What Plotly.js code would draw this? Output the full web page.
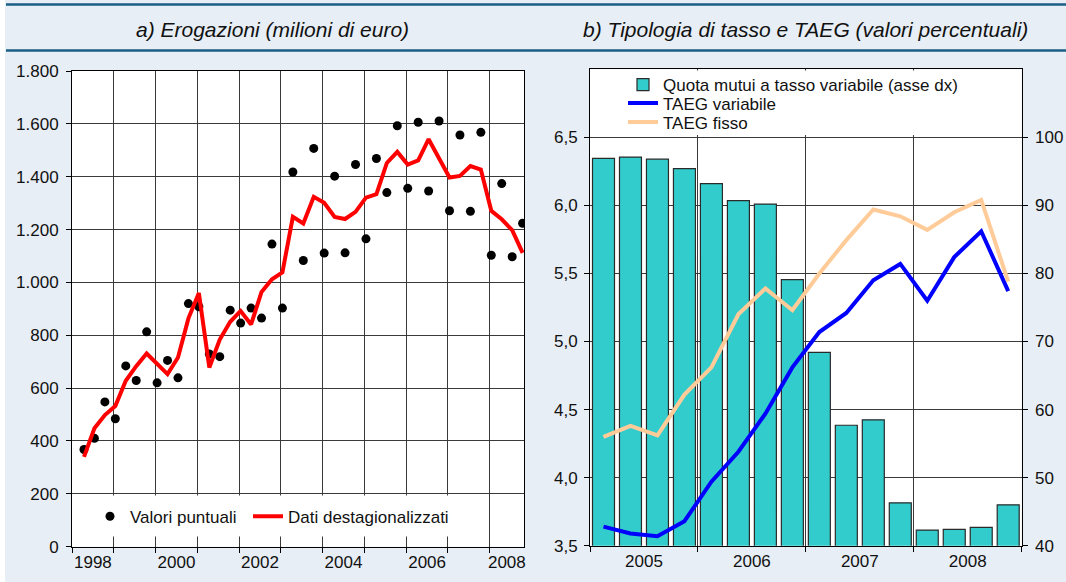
<!DOCTYPE html>
<html><head><meta charset="utf-8">
<script src="https://cdn.plot.ly/plotly-3.0.1.min.js"></script>
<style>html,body{margin:0;padding:0;background:#E7EEF5;}#chart{width:1066px;height:582px;}</style>
</head><body><div id="chart"></div><script>
// ---- data (panel a) ----
const quartersA = ['1998 T1','1998 T2','1998 T3','1998 T4','1999 T1','1999 T2','1999 T3','1999 T4',
  '2000 T1','2000 T2','2000 T3','2000 T4','2001 T1','2001 T2','2001 T3','2001 T4',
  '2002 T1','2002 T2','2002 T3','2002 T4','2003 T1','2003 T2','2003 T3','2003 T4',
  '2004 T1','2004 T2','2004 T3','2004 T4','2005 T1','2005 T2','2005 T3','2005 T4',
  '2006 T1','2006 T2','2006 T3','2006 T4','2007 T1','2007 T2','2007 T3','2007 T4',
  '2008 T1','2008 T2','2008 T3'];
const valoriPuntuali = [368,410,548,484,684,629,813,620,705,639,920,908,729,719,895,846,903,865,1145,903,
  1418,1083,1507,1111,1402,1112,1446,1165,1469,1340,1593,1356,1606,1346,1611,1271,1558,1269,1568,1103,1374,1097,1224];
const datiDestagionalizzati = [340,448,498,532,628,683,731,693,653,716,864,960,678,784,851,892,841,964,1012,1038,
  1248,1223,1324,1301,1248,1240,1267,1321,1334,1452,1494,1446,1462,1542,1469,1397,1403,1440,1427,1271,1239,1198,1112];
const yearLabelsA = ['1998','2000','2002','2004','2006','2008'];
const yearGridA = [1998,1999,2000,2001,2002,2003,2004,2005,2006,2007,2008];

// ---- data (panel b) ----
const quartersB = ['2005 T1','2005 T2','2005 T3','2005 T4','2006 T1','2006 T2','2006 T3','2006 T4',
  '2007 T1','2007 T2','2007 T3','2007 T4','2008 T1','2008 T2','2008 T3','2008 T4'];
const quotaVariabile = [96.9,97.1,96.8,95.4,93.2,90.7,90.2,79.1,68.4,57.7,58.5,46.3,42.3,42.4,42.7,46.0];
const taegVariabile = [3.64,3.59,3.57,3.68,3.97,4.19,4.47,4.81,5.07,5.21,5.45,5.57,5.30,5.62,5.81,5.37];
const taegFisso = [4.30,4.38,4.31,4.61,4.81,5.20,5.39,5.23,5.50,5.745,5.97,5.92,5.82,5.95,6.04,5.44];
const yearLabelsB = ['2005','2006','2007','2008'];
const yearGridB = [2005,2006,2007,2008,2009];

// ---- helpers ----
const W = 1066, H = 582;
const px = v => v / W, py = v => (H - v) / H;
const parseQ = l => { const p = l.split(' T'); return [+p[0], +p[1]]; };
const quarterEnd = l => { const [y, q] = parseQ(l); return y + q / 4 + 0.037; };
const quarterMid = l => { const [y, q] = parseQ(l); return y + (q - 0.5) / 4; };
const rangeA = [1998, 2008.82], rangeB = [2005, 2009];
const labelPos = (labels, rng) => labels.map(s => { const y = +s; return (y + Math.min(y + 1, rng[1])) / 2; });

const FONT = 'Liberation Sans, Arial, sans-serif';
const tickFont = {family: FONT, size: 17, color: '#111'};
const legFont = {family: FONT, size: 17, color: '#111'};
const gridC = '#3a3a3a';

const traces = [
  {type: 'scatter', mode: 'markers', name: 'Valori puntuali', x: quartersA.map(quarterEnd), y: valoriPuntuali,
   marker: {color: '#000', size: 9}, xaxis: 'x', yaxis: 'y', legend: 'legend', hoverinfo: 'skip'},
  {type: 'scatter', mode: 'lines', name: 'Dati destagionalizzati', x: quartersA.map(quarterEnd), y: datiDestagionalizzati,
   line: {color: '#FF0000', width: 4}, xaxis: 'x', yaxis: 'y', legend: 'legend5', hoverinfo: 'skip'},
  {type: 'bar', name: 'Quota mutui a tasso variabile (asse dx)', x: quartersB.map(quarterMid), y: quotaVariabile,
   marker: {color: '#33CCCC', line: {color: '#2a2a2a', width: 1.2}}, xaxis: 'x2', yaxis: 'y2', legend: 'legend2', hoverinfo: 'skip'},
  {type: 'scatter', mode: 'lines', name: 'TAEG variabile', x: quartersB.map(quarterMid), y: taegVariabile,
   line: {color: '#0000FF', width: 4}, xaxis: 'x2', yaxis: 'y3', legend: 'legend3', hoverinfo: 'skip'},
  {type: 'scatter', mode: 'lines', name: 'TAEG fisso', x: quartersB.map(quarterMid), y: taegFisso,
   line: {color: '#FFCC99', width: 4}, xaxis: 'x2', yaxis: 'y3', legend: 'legend4', hoverinfo: 'skip'}
];

const axBase = {showline: true, linecolor: '#000', linewidth: 1, zeroline: false, tickfont: tickFont, fixedrange: true};
const legAt = (xc, yc) => ({x: px(xc), y: py(yc), xanchor: 'left', yanchor: 'middle', orientation: 'v',
  bgcolor: 'rgba(0,0,0,0)', borderwidth: 0, font: legFont});

const layout = {
  width: W, height: H,
  margin: {l: 0, r: 0, t: 0, b: 0},
  paper_bgcolor: '#E7EEF5', plot_bgcolor: '#FFFFFF',
  separators: ',.',
  font: {family: FONT, color: '#111'},
  bargap: 0.185,
  showlegend: true,
  xaxis: Object.assign({}, axBase, {
    domain: [px(72), px(524)], range: rangeA, anchor: 'y', mirror: true,
    tickmode: 'array', tickvals: labelPos(yearLabelsA, rangeA), ticktext: yearLabelsA, ticks: '', showgrid: false,
    minor: {tickmode: 'array', tickvals: yearGridA, ticks: 'outside', ticklen: 5, tickcolor: '#000',
            showgrid: true, gridcolor: gridC, gridwidth: 1}
  }),
  yaxis: Object.assign({}, axBase, {
    domain: [py(546.7), py(71)], range: [0, 1800], anchor: 'x', mirror: true,
    tickmode: 'linear', tick0: 0, dtick: 200, ticks: 'outside', ticklen: 5, tickcolor: '#000', ticklabelstandoff: 4,
    separatethousands: true, showgrid: true, gridcolor: gridC, gridwidth: 1
  }),
  xaxis2: Object.assign({}, axBase, {
    domain: [px(590), px(1021.7)], range: rangeB, anchor: 'y2', mirror: true,
    tickmode: 'array', tickvals: labelPos(yearLabelsB, rangeB), ticktext: yearLabelsB, ticks: '', showgrid: false,
    minor: {tickmode: 'array', tickvals: yearGridB, ticks: 'outside', ticklen: 5, tickcolor: '#000',
            showgrid: true, gridcolor: gridC, gridwidth: 1}
  }),
  yaxis2: Object.assign({}, axBase, {
    domain: [py(545.7), py(69.3)], range: [40, 110], anchor: 'x2', side: 'right', mirror: true,
    tickmode: 'array', tickvals: [40, 50, 60, 70, 80, 90, 100], ticks: 'outside', ticklen: 5, tickcolor: '#000',
    ticklabelstandoff: 4, showgrid: true, gridcolor: gridC, gridwidth: 1
  }),
  yaxis3: Object.assign({}, axBase, {
    overlaying: 'y2', anchor: 'x2', side: 'left', range: [3.5, 7.0],
    tickmode: 'array', tickvals: [3.5, 4.0, 4.5, 5.0, 5.5, 6.0, 6.5], tickformat: '.1f',
    ticks: 'outside', ticklen: 5, tickcolor: '#000', ticklabelstandoff: 3, showgrid: false
  }),
  legend: legAt(90, 516.7),
  legend5: legAt(248, 516.7),
  legend2: legAt(623, 85),
  legend3: legAt(623, 103.5),
  legend4: legAt(623, 122.5),
  shapes: [
    {type: 'rect', xref: 'paper', yref: 'paper', x0: 0, x1: px(5), y0: 0, y1: 1, fillcolor: '#FFFFFF', line: {width: 0}, layer: 'below'},
    {type: 'line', xref: 'paper', yref: 'paper', x0: px(6), x1: 1, y0: py(4.5), y1: py(4.5), line: {color: '#1B5E85', width: 2.5}},
    {type: 'line', xref: 'paper', yref: 'paper', x0: px(6), x1: 1, y0: py(50.5), y1: py(50.5), line: {color: '#1B5E85', width: 2.5}},
    {type: 'rect', xref: 'paper', yref: 'paper', x0: px(73), x1: px(470), y0: py(536.5), y1: py(495.5), fillcolor: '#FFFFFF', line: {width: 0}, layer: 'above'},
    {type: 'rect', xref: 'paper', yref: 'paper', x0: px(600), x1: px(1000), y0: py(135), y1: py(70.5), fillcolor: '#FFFFFF', line: {width: 0}, layer: 'above'}
  ],
  annotations: [
    {xref: 'paper', yref: 'paper', x: px(272), y: py(29), text: 'a) Erogazioni (milioni di euro)', showarrow: false,
     xanchor: 'center', yanchor: 'middle', font: {family: FONT, size: 21, color: '#111', style: 'italic'}},
    {xref: 'paper', yref: 'paper', x: px(805), y: py(29), text: 'b) Tipologia di tasso e TAEG (valori percentuali)', showarrow: false,
     xanchor: 'center', yanchor: 'middle', font: {family: FONT, size: 21, color: '#111', style: 'italic'}}
  ]
};

Plotly.newPlot('chart', traces, layout, {staticPlot: true, displayModeBar: false});
</script></body></html>
